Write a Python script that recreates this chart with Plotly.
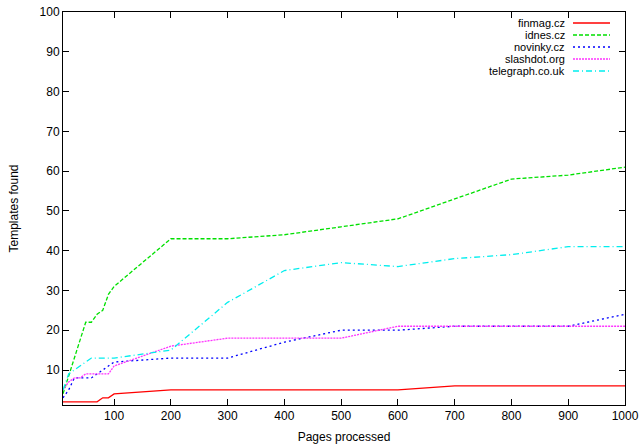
import plotly.graph_objects as go

# ---- data ----
finmag_x = [10, 70, 80, 90, 100, 200, 300, 400, 500, 600, 700, 800, 900, 1000]
finmag_y = [2, 2, 3, 3, 4, 5, 5, 5, 5, 5, 6, 6, 6, 6]

idnes_x = [10, 50, 60, 70, 80, 90, 100, 200, 300, 400, 500, 600, 700, 800, 900, 1000]
idnes_y = [4, 22, 22, 24, 25, 29, 31, 43, 43, 44, 46, 48, 53, 58, 59, 61]

novinky_x = [10, 20, 30, 40, 50, 60, 70, 80, 90, 100, 200, 300, 400, 500, 600, 700, 800, 900, 1000]
novinky_y = [3, 5, 8, 8, 8, 8, 9, 10, 11, 12, 13, 13, 17, 20, 20, 21, 21, 21, 24]

slashdot_x = [10, 20, 30, 40, 50, 60, 70, 80, 90, 100, 200, 300, 400, 500, 600, 700, 800, 900, 1000]
slashdot_y = [5, 7, 8, 8, 9, 9, 9, 9, 9, 11, 16, 18, 18, 18, 21, 21, 21, 21, 21]

telegraph_x = [10, 20, 30, 40, 50, 60, 70, 80, 90, 100, 200, 300, 400, 500, 600, 700, 800, 900, 1000]
telegraph_y = [5, 9, 10, 11, 12, 13, 13, 13, 13, 13, 15, 27, 35, 37, 36, 38, 39, 41, 41]

series = [
    ("finmag.cz", finmag_x, finmag_y, "#ff0000", "solid"),
    ("idnes.cz", idnes_x, idnes_y, "#00e000", "4px,2px"),
    ("novinky.cz", novinky_x, novinky_y, "#0000ff", "2px,3px"),
    ("slashdot.org", slashdot_x, slashdot_y, "#ff33ff", "2px,1px"),
    ("telegraph.co.uk", telegraph_x, telegraph_y, "#00eeee", "6px,3px,1px,3px"),
]

x_ticks = [100, 200, 300, 400, 500, 600, 700, 800, 900, 1000]
y_ticks = [10, 20, 30, 40, 50, 60, 70, 80, 90, 100]

FONT = "Liberation Sans, Arial, sans-serif"

fig = go.Figure()
for name, xs, ys, color, dash in series:
    fig.add_trace(go.Scatter(x=xs, y=ys, mode="lines", name=name, showlegend=False,
                             line=dict(color=color, width=1.3, dash=dash)))

# gnuplot-style legend: right-aligned text with line sample on the right
W, H = 640, 446
L, R, T, B = 63, 15, 12, 41
pw, ph = W - L - R, H - T - B
def px2paper_x(px):
    return (px - L) / pw
def py2paper_y(py):
    return 1 - (py - T) / ph

for i, (name, xs, ys, color, dash) in enumerate(series):
    yy = py2paper_y(23 + 12 * i)
    fig.add_annotation(x=px2paper_x(566), y=yy, xref="paper", yref="paper",
                       text=name, showarrow=False, xanchor="right", yanchor="middle",
                       borderpad=0,
                       font=dict(family=FONT, size=11, color="#000000"))
    fig.add_shape(type="line", xref="paper", yref="paper",
                  x0=px2paper_x(573), x1=px2paper_x(610), y0=yy, y1=yy,
                  line=dict(color=color, width=1.3, dash=dash))

axis_common = dict(showline=True, linecolor="#000000", linewidth=1, mirror="ticks",
                   ticks="inside", ticklen=6, tickcolor="#000000", showgrid=False,
                   zeroline=False, automargin=False,
                   tickfont=dict(family=FONT, size=12, color="#000000"))

fig.update_layout(
    width=W, height=H,
    margin=dict(l=L, r=R, t=T, b=B),
    paper_bgcolor="#ffffff", plot_bgcolor="#ffffff",
    font=dict(family=FONT, size=12, color="#000000"),
    xaxis=dict(range=[10, 1000], tickvals=x_ticks, ticktext=[str(v) for v in x_ticks],
               title=dict(text="Pages processed", standoff=10, font=dict(family=FONT, size=12)),
               **axis_common),
    yaxis=dict(range=[1.2, 100], tickvals=y_ticks, ticktext=[str(v) for v in y_ticks],
               title=dict(text="Templates found", standoff=18, font=dict(family=FONT, size=12)),
               **axis_common),
)

fig.write_html("out.html",
               config={"displayModeBar": False},
               post_script="document.body.style.margin='0';document.body.style.padding='0';document.body.style.overflow='hidden';")
